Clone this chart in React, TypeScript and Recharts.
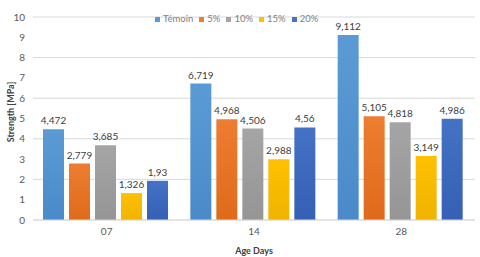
import { Bar, BarChart, CartesianGrid, LabelList, Legend, XAxis, YAxis } from "recharts"

const ages = ["07", "14", "28"]
const temoin = [4.472, 6.719, 9.112]
const pct5 = [2.779, 4.968, 5.105]
const pct10 = [3.685, 4.506, 4.818]
const pct15 = [1.326, 2.988, 3.149]
const pct20 = [1.93, 4.56, 4.986]
const yTicks = [0, 1, 2, 3, 4, 5, 6, 7, 8, 9, 10]

const series = [
  { key: "Témoin", values: temoin, color: "#5B9BD5", dark: "#4A8AC9" },
  { key: "5%", values: pct5, color: "#ED7D31", dark: "#E06A1B" },
  { key: "10%", values: pct10, color: "#A5A5A5", dark: "#959595" },
  { key: "15%", values: pct15, color: "#FFC000", dark: "#F0B400" },
  { key: "20%", values: pct20, color: "#4472C4", dark: "#3560B5" },
]

const data = ages.map((age, i) => {
  const row: Record<string, string | number> = { age }
  series.forEach((s) => {
    row[s.key] = s.values[i]
  })
  return row
})

const fmt = (v: number) => String(v).replace(".", ",")
const font = "Lato, 'Open Sans', sans-serif"

// rotated axis title, centred on the plot height
const yTitle = () => (
  <text
    x={10}
    y={112}
    transform="rotate(-90 10 112)"
    textAnchor="middle"
    dominantBaseline="central"
    fontSize={9}
    fontWeight="bold"
    fill="#404040"
    fontFamily={font}
  >
    Strength [MPa]
  </text>
)

// legend kept in series order (recharts sorts by name otherwise)
const legendContent = () => (
  <div style={{ display: "flex", gap: 6, fontSize: 9.5, color: "#7f7f7f", fontFamily: font, lineHeight: "12px" }}>
    {series.map((s) => (
      <span key={s.key} style={{ display: "flex", alignItems: "center", gap: 3 }}>
        <span style={{ width: 5, height: 5, background: s.color, display: "inline-block" }} />
        {s.key}
      </span>
    ))}
  </div>
)

export default function App() {
  return (
    <div style={{ fontFamily: font }}>
      <style>{"body{margin:0}"}</style>
      <BarChart
        width={480}
        height={257}
        data={data}
        margin={{ top: 5, right: 5, left: 8, bottom: 0 }}
        barCategoryGap={10}
        barGap={5}
      >
        <defs>
          {series.map((s, i) => (
            <linearGradient key={s.key} id={`g${i}`} x1="0" y1="0" x2="0" y2="1">
              <stop offset="0%" stopColor={s.color} />
              <stop offset="100%" stopColor={s.dark} />
            </linearGradient>
          ))}
        </defs>
        <CartesianGrid vertical={false} stroke="#d9d9d9" />
        <XAxis
          dataKey="age"
          height={37}
          tickLine={false}
          axisLine={{ stroke: "#d9d9d9" }}
          tick={{ fontSize: 10, fill: "#595959", fontFamily: font }}
          label={{ value: "Age Days", position: "insideBottom", offset: 3, fontSize: 9, fontWeight: "bold", fill: "#404040", fontFamily: font }}
        />
        <YAxis
          width={25}
          domain={[0, 10]}
          ticks={yTicks}
          tickLine={false}
          axisLine={false}
          tick={{ fontSize: 10, fill: "#595959", fontFamily: font }}
          label={{ content: yTitle }}
        />
        <Legend
          verticalAlign="top"
          align="left"
          content={legendContent}
          wrapperStyle={{ top: 13, left: 155, width: 165 }}
        />
        {series.map((s, i) => (
          <Bar key={s.key} dataKey={s.key} fill={`url(#g${i})`} isAnimationActive={false}>
            <LabelList
              dataKey={s.key}
              position="top"
              offset={5}
              formatter={(v: number) => fmt(v)}
              style={{ fontSize: 10, fill: "#404040", fontFamily: font }}
            />
          </Bar>
        ))}
      </BarChart>
    </div>
  )
}
